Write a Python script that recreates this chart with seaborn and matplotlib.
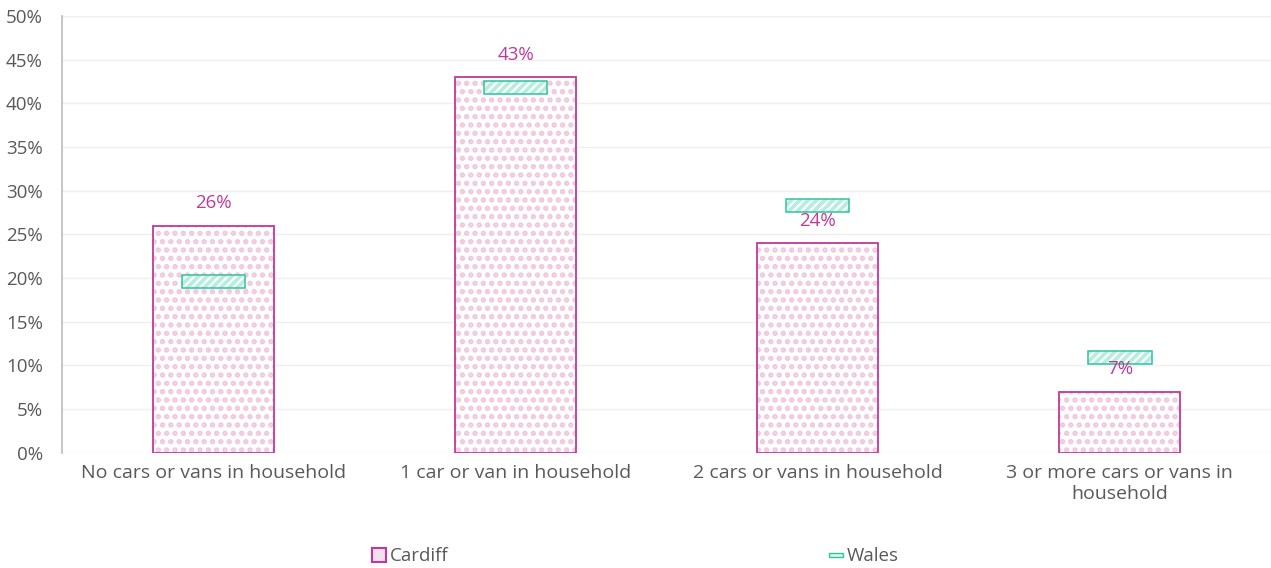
import matplotlib.pyplot as plt
import numpy as np
import pandas as pd
import seaborn as sns
from matplotlib.patches import Patch, Rectangle
from matplotlib.ticker import PercentFormatter

categories = ["No cars or vans in household", "1 car or van in household",
              "2 cars or vans in household", "3 or more cars or vans in\nhousehold"]
cardiff = [26, 43, 24, 7]
wales = [19.6, 41.8, 28.3, 10.9]

MAGENTA = "#C0399A"
PINK_DOT = "#F0C6DF"
TEAL = "#2EC49E"
TEAL_HATCH = "#B5EEDF"
GREY = "#595959"

sns.set_theme(style="white")
plt.rcParams['font.family'] = ['Open Sans', 'DejaVu Sans']
plt.rcParams['hatch.linewidth'] = 2.6

df = pd.DataFrame({"category": categories, "Cardiff": cardiff, "Wales": wales})

fig, ax = plt.subplots(figsize=(12.71, 5.68), dpi=100)
fig.subplots_adjust(left=0.049, right=1.0, top=0.972, bottom=0.203)

# Cardiff bars: dotted fill layer, then outline layer
sns.barplot(data=df, x="category", y="Cardiff", color="white", width=0.4,
            edgecolor=PINK_DOT, linewidth=0, hatch="..", ax=ax, zorder=2)
sns.barplot(data=df, x="category", y="Cardiff", fill=False, width=0.4,
            edgecolor=MAGENTA, linewidth=1.3, ax=ax, zorder=3)

# Wales markers: small hatched boxes centred on the value
x = np.arange(len(categories))
ax.bar(x, [1.5] * len(wales), bottom=np.array(wales) - 0.75, width=0.21,
       color="white", edgecolor=TEAL_HATCH, hatch="////", linewidth=0, zorder=4)
ax.bar(x, [1.5] * len(wales), bottom=np.array(wales) - 0.75, width=0.21,
       fill=False, edgecolor=TEAL, linewidth=1.1, zorder=5)

for xi, v in zip(x, cardiff):
    ax.annotate(f"{v}%", (xi, v), xytext=(0, 16), textcoords="offset points",
                ha="center", va="center", color=MAGENTA, fontsize=13.5, zorder=6)

ax.set_xlim(-0.5, len(categories) - 0.5)
ax.set_ylim(0, 50)
ax.set_yticks(range(0, 51, 5))
ax.yaxis.set_major_formatter(PercentFormatter(decimals=0))
ax.grid(axis="y", color="#EFEFEF", linewidth=1, zorder=0)
ax.set_axisbelow(True)
ax.set_xlabel("")
ax.set_ylabel("")
ax.tick_params(axis="both", colors=GREY, labelsize=13.5, length=0)
ax.tick_params(axis="x", labelsize=14, pad=8)
ax.tick_params(axis="y", pad=14)
for s in ["top", "right", "bottom"]:
    ax.spines[s].set_visible(False)
ax.spines["left"].set_color("#BFBFBF")

handles = [
    Patch(facecolor="#F7E0EE", edgecolor=MAGENTA, linewidth=1.5, label="Cardiff"),
    Rectangle((0, 0), 1, 1, facecolor="#DDF7F0", edgecolor=TEAL, linewidth=1, label="Wales"),
]
leg = fig.legend(handles=handles, loc="lower center", bbox_to_anchor=(0.5, -0.025),
                 ncol=2, frameon=False, fontsize=13.5, columnspacing=20.3,
                 handlelength=0.75, handleheight=0.75, handletextpad=0.2)
for t in leg.get_texts():
    t.set_color(GREY)
# make the Wales legend key a thin bar
wales_key = leg.legend_handles[1]
wales_key.set_height(wales_key.get_height() * 0.3)
wales_key.set_y(wales_key.get_y() + 3)

fig.savefig("out.png", dpi=100)
